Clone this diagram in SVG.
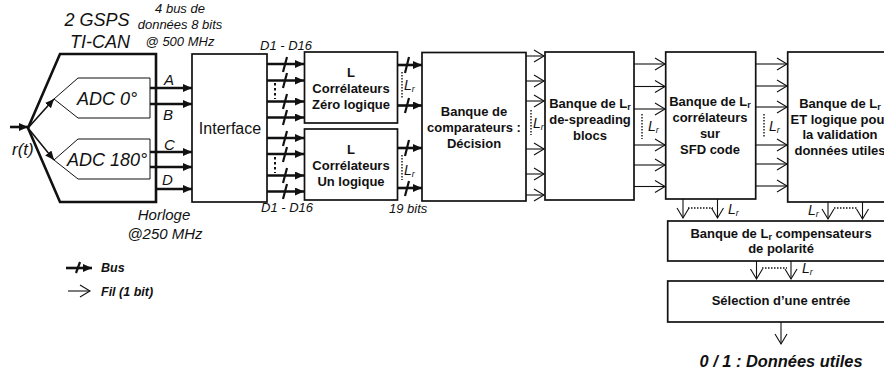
<svg xmlns="http://www.w3.org/2000/svg" width="884" height="374" viewBox="0 0 884 374">
<style>
text{font-family:"Liberation Sans",Arial,sans-serif;fill:#111}
.i{font-style:italic}
.b{font-weight:bold;font-size:13px;text-anchor:middle}
.m{text-anchor:middle}
.box{fill:#fff;stroke:#111;stroke-width:1.7}
.thin{fill:#fff;stroke:#111;stroke-width:1}
.bus{stroke:#111;stroke-width:2.6;fill:none;marker-end:url(#solid)}
.wire{stroke:#111;stroke-width:1.1;fill:none;marker-end:url(#open)}
.sl{stroke:#111;stroke-width:2.2;fill:none}
.dot{stroke:#111;stroke-width:1.4;stroke-dasharray:1.5 1.5;fill:none}
.dot2{stroke:#111;stroke-width:2;stroke-dasharray:2.5 2.5;fill:none}
.lr{font-style:italic;font-size:14px}
.sub{font-size:9px}
</style>
<defs>
<marker id="solid" markerUnits="userSpaceOnUse" markerWidth="10" markerHeight="10" refX="9" refY="4" orient="auto"><path d="M0 0L9 4L0 8Z" fill="#111"/></marker>
<marker id="open" markerUnits="userSpaceOnUse" markerWidth="14" markerHeight="16" refX="12" refY="7" orient="auto"><path d="M2 1L12 7L2 13" fill="none" stroke="#111" stroke-width="1.1"/></marker>
</defs>
<g id="connectors">
<path class="bus" d="M10 127H28"/>
<path class="bus" style="stroke-width:1.6" d="M28 128L54 99"/>
<path class="bus" style="stroke-width:1.6" d="M28 128L54 160"/>
<path class="bus" d="M150 88H192"/><path class="bus" d="M150 104H192"/>
<path class="bus" d="M150 152H192"/><path class="bus" d="M150 167H192"/><path class="bus" d="M157 189H192"/>
<path class="bus" d="M267 64H304"/><path class="bus" d="M267 80.500H304"/><path class="bus" d="M267 101.500H304"/><path class="bus" d="M267 117.500H304"/>
<path class="bus" d="M267 138H304"/><path class="bus" d="M267 154H304"/><path class="bus" d="M267 175.500H304"/><path class="bus" d="M267 191.500H304"/>
<path class="sl" d="M287 57L283 72M287 73L283 88M287 94L283 109M287 110L283 125M287 131L283 146M287 147L283 162M287 168L283 183M287 184L283 199"/>
<path class="dot2" d="M275 83V99M275 157V173"/>
<path class="bus" d="M398 65H422"/><path class="bus" d="M398 105.500H422"/><path class="bus" d="M398 148H422"/><path class="bus" d="M398 188H422"/>
<path class="sl" d="M409 57L405 73M409 98L405 113M409 140L405 156M409 181L405 196"/>
<path class="dot" d="M402 72V98M402 155V180"/>
<path class="wire" d="M526 56H544"/><path class="wire" d="M526 81H544"/><path class="wire" d="M526 101H544"/><path class="wire" d="M526 149H544"/><path class="wire" d="M526 174H544"/><path class="wire" d="M526 195H544"/>
<path class="dot" d="M531 110V135"/>
<path class="wire" d="M634 64H665"/><path class="wire" d="M634 86.500H665"/><path class="wire" d="M634 109H665"/><path class="wire" d="M634 145H665"/><path class="wire" d="M634 165H665"/><path class="wire" d="M634 186.500H665"/>
<path class="dot" d="M642 114V139"/>
<path class="wire" d="M756 64H787"/><path class="wire" d="M756 86H787"/><path class="wire" d="M756 107H787"/><path class="wire" d="M756 145H787"/><path class="wire" d="M756 164H787"/><path class="wire" d="M756 186H787"/>
<path class="dot" d="M764 114V138"/>
<path class="wire" d="M683 199V218"/><path class="wire" d="M717.500 199V218"/><path class="dot" d="M688 208H713"/>
<path class="wire" d="M828 202V219"/><path class="wire" d="M862.500 202V219"/><path class="dot" d="M834 208H858"/>
<path class="wire" d="M756.500 261V279"/><path class="wire" d="M791 261V279"/><path class="dot" d="M762 268H787"/>
<path class="wire" d="M781 322V344"/>
<path class="bus" d="M66 268H92"/><path class="sl" d="M80 262L76 273"/>
<path class="wire" d="M68 291H90"/>
</g>
<g id="ti-can"><path d="M28 128L60 54H156V202H60Z" fill="none" stroke="#111" stroke-width="2.6"/>
<text class="i m" x="97" y="26" font-size="18">2 GSPS</text><text class="i m" x="100" y="48" font-size="18">TI-CAN</text></g>
<g id="adc0"><path class="thin" d="M54 99L78 78H150V118H78Z"/><text class="i m" x="107" y="105" font-size="18">ADC 0°</text></g>
<g id="adc180"><path class="thin" d="M54 160L78 139H150V179H78Z"/><text class="i m" x="107" y="166" font-size="18">ADC 180°</text></g>
<g id="interface"><rect class="box" x="192" y="54" width="75" height="148"/><text class="m" x="230" y="134" font-size="16">Interface</text></g>
<g id="corr0"><rect class="box" x="304.500" y="52" width="93" height="71"/><text class="b" x="351" y="77">L</text><text class="b" x="351" y="93">Corrélateurs</text><text class="b" x="351" y="109">Zéro logique</text></g>
<g id="corr1"><rect class="box" x="304.500" y="129" width="93" height="71"/><text class="b" x="351" y="154">L</text><text class="b" x="351" y="170">Corrélateurs</text><text class="b" x="351" y="186">Un logique</text></g>
<g id="decision"><rect class="box" x="422" y="52.500" width="104" height="148.500"/><text class="b" x="474" y="116">Banque de</text><text class="b" x="474" y="132">comparateurs :</text><text class="b" x="474" y="148">Décision</text></g>
<g id="despread"><rect class="box" x="545" y="52" width="89" height="148"/><text class="b" x="590" y="108">Banque de L<tspan class="sub" dy="2">r</tspan></text><text class="b" x="590" y="124">de-spreading</text><text class="b" x="590" y="140">blocs</text></g>
<g id="sfd"><rect class="box" x="665.700" y="52" width="90" height="147"/><text class="b" x="710" y="106">Banque de L<tspan class="sub" dy="2">r</tspan></text><text class="b" x="710" y="122">corrélateurs</text><text class="b" x="710" y="138">sur</text><text class="b" x="710" y="154">SFD code</text></g>
<g id="et"><rect class="box" x="787.700" y="52" width="110" height="150"/><text class="b" x="840" y="108">Banque de L<tspan class="sub" dy="2">r</tspan></text><text class="b" x="840" y="124">ET logique pour</text><text class="b" x="840" y="139">la validation</text><text class="b" x="840" y="155">données utiles</text></g>
<g id="polarite"><rect class="box" x="667.700" y="221" width="230" height="40"/><text class="b" x="781" y="238">Banque de L<tspan class="sub" dy="2">r</tspan><tspan dy="-2"> compensateurs</tspan></text><text class="b" x="781" y="253">de polarité</text></g>
<g id="selection"><rect class="box" x="667.700" y="281" width="230" height="41"/><text class="b" x="781" y="305">Sélection d’une entrée</text></g>
<g id="labels">
<text class="i m" x="180" y="13" font-size="13">4 bus de</text><text class="i m" x="180" y="29" font-size="13">données 8 bits</text><text class="i m" x="180" y="46" font-size="13">@ 500 MHz</text>
<text class="i" x="12" y="155" font-size="17">r(t)</text>
<text class="i" x="164" y="85" font-size="15">A</text><text class="i" x="163" y="120" font-size="15">B</text><text class="i" x="164" y="150" font-size="15">C</text><text class="i" x="162" y="185" font-size="15">D</text>
<text class="i m" x="164" y="220" font-size="15">Horloge</text><text class="i m" x="165" y="239" font-size="15">@250 MHz</text>
<text class="i" x="260" y="50" font-size="13">D1 - D16</text><text class="i" x="261" y="212" font-size="13">D1 - D16</text>
<text class="i" x="389" y="213" font-size="13">19 bits</text>
<text class="lr" x="404" y="90">L<tspan class="sub" dy="2">r</tspan></text><text class="lr" x="404" y="175">L<tspan class="sub" dy="2">r</tspan></text>
<text class="lr" x="533" y="128">L<tspan class="sub" dy="2">r</tspan></text><text class="lr" x="648" y="131">L<tspan class="sub" dy="2">r</tspan></text><text class="lr" x="769" y="131">L<tspan class="sub" dy="2">r</tspan></text>
<text class="lr" x="728" y="214">L<tspan class="sub" dy="2">r</tspan></text><text class="lr" x="808" y="215">L<tspan class="sub" dy="2">r</tspan></text><text class="lr" x="802" y="273">L<tspan class="sub" dy="2">r</tspan></text>
<text class="i" x="101" y="272" font-size="12.500" font-weight="bold">Bus</text><text class="i" x="101" y="296" font-size="12.500" font-weight="bold">Fil (1 bit)</text>
<text class="i m" x="781" y="367" font-size="16.400" font-weight="bold">0 / 1 : Données utiles</text>
</g>
</svg>
